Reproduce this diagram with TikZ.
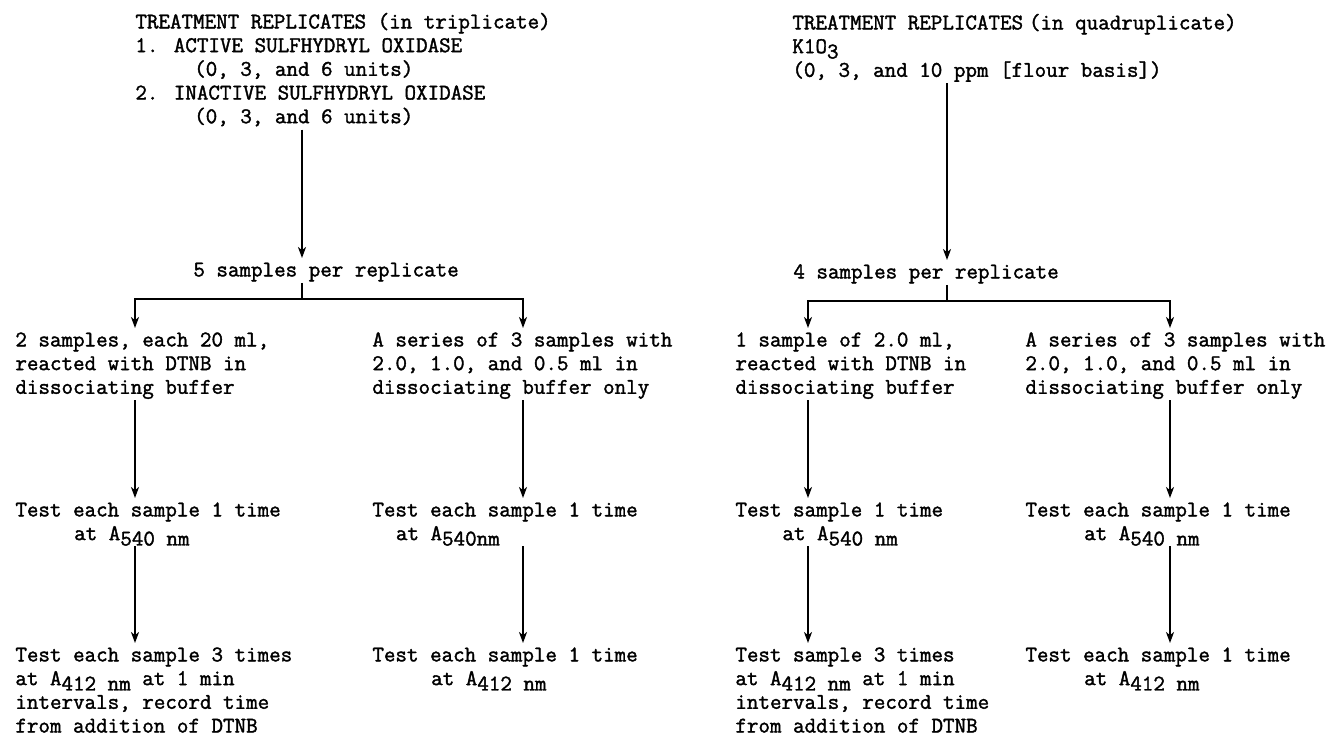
\documentclass[tikz,border=0pt]{standalone}
\usepackage{fontspec}
\usetikzlibrary{arrows.meta}
\newcommand\heavy{\special{pdf:literal direct 2 Tr 0.18 w}}
\newcommand\tfont{\fontsize{11.2}{11.85}\selectfont\ttfamily\lineskiplimit=-20pt\relax\heavy}
\newcommand\fs{\rule{0pt}{9pt}}
\newcommand\ls{\rule[-3pt]{0pt}{3pt}}
\newcommand\sbs[1]{\raisebox{-0.24em}{#1}}
\newcommand\ind[1]{\hspace*{#1\dimexpr0.525em\relax}}
\tikzset{
  txt/.style={anchor=north west, inner sep=0pt, align=left, font=\tfont},
  arr/.style={-{Stealth[length=5.5pt,width=4pt,inset=1.6pt]}, line width=0.95pt},
  ln/.style={line width=0.95pt}
}
\begin{document}
\begin{tikzpicture}[x=0.5pt,y=-0.5pt]
\useasboundingbox (0,0) rectangle (1344,736);
% ---------- left block ----------
\node[txt] (titleL) at (135,10) {\fs TREATMENT REPLICATES (in triplicate)\\1. ACTIVE SULFHYDRYL OXIDASE\\\ind{5}(0, 3, and 6 units)\\2. INACTIVE SULFHYDRYL OXIDASE\\\ind{5}(0, 3, and 6 units)\ls};
\node[txt] (sampL) at (193,258) {\fs 5 samples per replicate\ls};
\node[txt] (colA1L) at (15,328) {\fs 2 samples, each 20 ml,\\reacted with DTNB in\\dissociating buffer\ls};
\node[txt] (colB1L) at (372,328) {\fs A series of 3 samples with\\2.0, 1.0, and 0.5 ml in\\dissociating buffer only\ls};
\node[txt] (colA2L) at (15,498) {\fs Test each sample 1 time\\\ind{5}at A\sbs{540 nm}};
\node[txt] (colB2L) at (372,498) {\fs Test each sample 1 time\\\ind{2}at A\sbs{540nm}};
\node[txt] (colA3L) at (15,643) {\fs Test each sample 3 times\\at A\sbs{412 nm} at 1 min\\intervals, record time\\from addition of DTNB};
\node[txt] (colB3L) at (372,643) {\fs Test each sample 1 time\\\ind{5}at A\sbs{412 nm}};
\coordinate (xL) at (302,0);
\coordinate (aL) at (135,0);
\coordinate (bL) at (523,0);
\coordinate (hL) at (302,299);
\draw[arr] (titleL.south -| xL) -- (sampL.north -| xL);
\draw[ln] (sampL.south -| hL) -- (hL);
\draw[arr] (hL) -| (colA1L.north -| aL);
\draw[arr] (hL) -| (colB1L.north -| bL);
\draw[arr] (colA1L.south -| aL) -- (colA2L.north -| aL);
\draw[arr] (colB1L.south -| bL) -- (colB2L.north -| bL);
\draw[arr] (colA2L.south -| aL) -- (colA3L.north -| aL);
\draw[arr] (colB2L.south -| bL) -- (colB3L.north -| bL);
% ---------- right block ----------
\node[txt] (titleR) at (792,11) {\fs TREATMENT REPLICATES\hspace{0.2625em}(in quadruplicate)\\K1O\sbs{3}\\(0, 3, and 10 ppm [flour basis])\ls};
\node[txt] (sampR) at (793,260) {\fs 4 samples per replicate\ls};
\node[txt] (colA1R) at (735,328) {\fs 1 sample of 2.0 ml,\\reacted with DTNB in\\dissociating buffer\ls};
\node[txt] (colB1R) at (1025,328) {\fs A series of 3 samples with\\2.0, 1.0, and 0.5 ml in\\dissociating buffer only\ls};
\node[txt] (colA2R) at (735,498) {\fs Test sample 1 time\\\ind{4}at A\sbs{540 nm}};
\node[txt] (colB2R) at (1025,498) {\fs Test each sample 1 time\\\ind{5}at A\sbs{540 nm}};
\node[txt] (colA3R) at (735,643) {\fs Test sample 3 times\\at A\sbs{412 nm} at 1 min\\intervals, record time\\from addition of DTNB};
\node[txt] (colB3R) at (1025,643) {\fs Test each sample 1 time\\\ind{5}at A\sbs{412 nm}};
\coordinate (xR) at (947,0);
\coordinate (aR) at (808,0);
\coordinate (bR) at (1170,0);
\coordinate (hR) at (947,301);
\draw[arr] (titleR.south -| xR) -- (sampR.north -| xR);
\draw[ln] (sampR.south -| hR) -- (hR);
\draw[arr] (hR) -| (colA1R.north -| aR);
\draw[arr] (hR) -| (colB1R.north -| bR);
\draw[arr] (colA1R.south -| aR) -- (colA2R.north -| aR);
\draw[arr] (colB1R.south -| bR) -- (colB2R.north -| bR);
\draw[arr] (colA2R.south -| aR) -- (colA3R.north -| aR);
\draw[arr] (colB2R.south -| bR) -- (colB3R.north -| bR);
\end{tikzpicture}
\end{document}
